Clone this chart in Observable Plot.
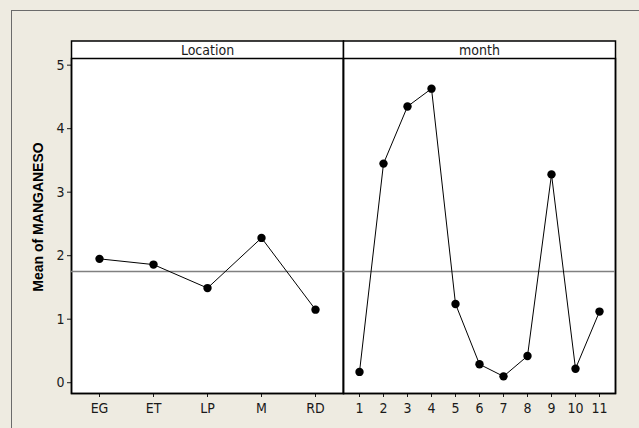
<!DOCTYPE html>
<html><head><meta charset="utf-8">
<script src="https://cdn.jsdelivr.net/npm/d3@7"></script>
<script src="https://cdn.jsdelivr.net/npm/@observablehq/plot@0.6"></script>
<style>
html,body{margin:0;padding:0;background:#eeebe1;}
#wrap{position:relative;width:639px;height:428px;overflow:hidden;background:#eeebe1;}
#border{position:absolute;left:11px;top:10px;width:700px;height:500px;border-left:1.5px solid #6b6b6b;border-top:1.5px solid #6b6b6b;}
.panel{position:absolute;top:0;}
</style></head><body><div id="wrap"><div id="border"></div><div id="left" class="panel" style="left:0px"></div><div id="right" class="panel" style="left:343px"></div></div>
<script>
const locations = ["EG","ET","LP","M","RD"];
const locationMeans = [1.95,1.86,1.49,2.28,1.15];
const months = [1,2,3,4,5,6,7,8,9,10,11];
const monthMeans = [0.17,3.45,4.35,4.63,1.24,0.29,0.10,0.42,3.28,0.22,1.12];
const grandMean = 1.75;
const yTicks = [0,1,2,3,4,5];
const yTitle = "Mean of MANGANESO";
const panelTitles = ["Location","month"];

const locData = locations.map((k,i)=>({k, v: locationMeans[i]}));
const monData = months.map((k,i)=>({k, v: monthMeans[i]}));

const font = "'DejaVu Sans Condensed','DejaVu Sans',sans-serif";
const yDomain = [-0.17, 5.105];
const baseStyle = {background:"transparent", overflow:"visible", fontFamily:font, fontStretch:"condensed", fontSize:"14px", color:"#1a1a1a"};

function panelMarks(data, title){
  return [
    Plot.frame({fill:"white", stroke:"black", strokeWidth:1.5, insetTop:-17.5}),
    Plot.frame({stroke:"black", strokeWidth:1.5}),
    Plot.ruleY([grandMean], {stroke:"#808080", strokeWidth:1.5}),
    Plot.line(data, {x:"k", y:"v", stroke:"black", strokeWidth:1}),
    Plot.dot(data, {x:"k", y:"v", r:4.2, fill:"black", stroke:"none"}),
    Plot.text([title], {frameAnchor:"top", lineAnchor:"middle", textAnchor:"middle", dy:-7.5, fontSize:14, fill:"#1a1a1a"})
  ];
}

const left = Plot.plot({
  width:344, height:428, marginLeft:71, marginRight:1, marginTop:58, marginBottom:35,
  style: baseStyle,
  x:{type:"point", domain:locations, padding:0.5, label:null, tickSize:4, tickPadding:6},
  y:{domain:yDomain, ticks:yTicks, tickFormat:d3.format("d"), label:null, tickSize:4, tickPadding:3},
  marks:[
    ...panelMarks(locData, panelTitles[0]),
    Plot.text([yTitle], {frameAnchor:"left", textAnchor:"middle", lineAnchor:"middle", rotate:-90, dx:-32.5, dy:-9, fontWeight:"bold", fontSize:14, fontFamily:"'Liberation Sans',Arial,sans-serif", fill:"black"})
  ]
});
document.getElementById("left").append(left);

const right = Plot.plot({
  width:296, height:428, marginLeft:0, marginRight:24, marginTop:58, marginBottom:35,
  style: baseStyle,
  x:{type:"point", domain:months, padding:0.5, label:null, tickSize:4, tickPadding:6},
  y:{domain:yDomain, axis:null},
  marks: panelMarks(monData, panelTitles[1])
});
document.getElementById("right").append(right);
</script>
</body></html>
